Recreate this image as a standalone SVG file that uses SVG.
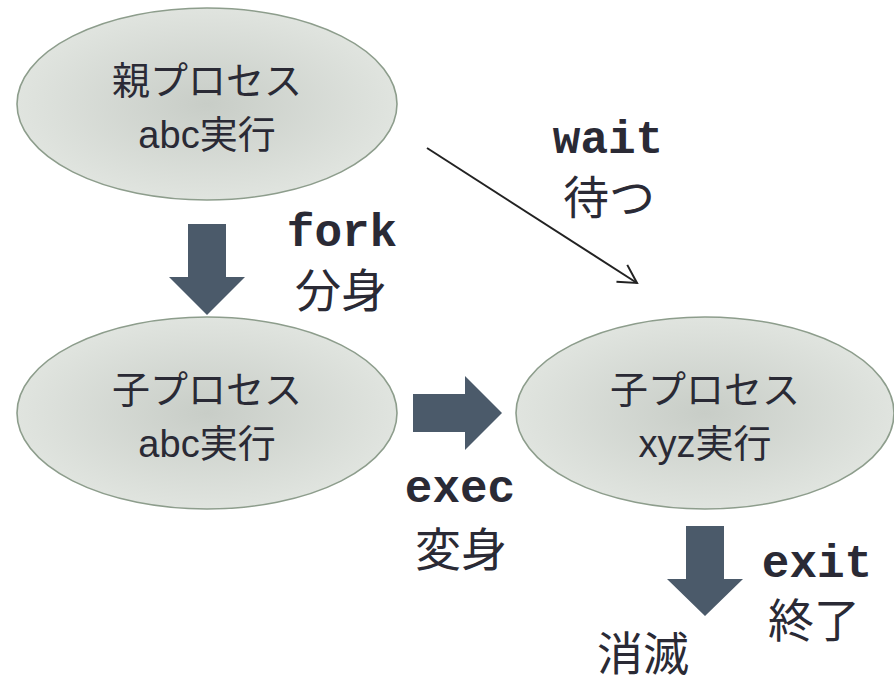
<svg xmlns="http://www.w3.org/2000/svg" width="894" height="680" viewBox="0 0 894 680">
<style>
.node{fill:url(#g);stroke:#8d9d8c;stroke-width:1.6}
.nt{font-family:"Liberation Sans","Noto Sans CJK JP",sans-serif;font-size:38px;fill:#2a2a35;text-anchor:middle}
.code{font-family:"Liberation Mono","Courier New",monospace;font-weight:bold;font-size:46px;fill:#2a2a35;text-anchor:middle}
.jp{font-family:"Noto Sans CJK JP",sans-serif;font-size:46px;fill:#2a2a35;text-anchor:middle}
.fat{fill:#4b5a6a}
.thin{stroke:#222;stroke-width:2;fill:none}
</style>
<defs>
<radialGradient id="g" cx="0.5" cy="0.5" r="0.5">
<stop offset="0" stop-color="#c8cdc7"/>
<stop offset="1" stop-color="#e0e4df"/>
</radialGradient>
<marker id="open" markerUnits="userSpaceOnUse" markerWidth="24" markerHeight="24" viewBox="0 0 24 24" refX="20" refY="12" orient="auto" overflow="visible">
<path d="M2,2 L20,12 L2,22" fill="none" stroke="#222" stroke-width="2"/>
</marker>
</defs>
<rect width="894" height="680" fill="#fff"/>
<g id="parent">
<ellipse class="node" cx="207" cy="104" rx="190" ry="96"/>
<text class="nt" x="207" y="94">親プロセス</text>
<text class="nt" x="207" y="148">abc実行</text>
</g>
<g id="child-abc">
<ellipse class="node" cx="207" cy="413" rx="190" ry="96"/>
<text class="nt" x="207" y="403">子プロセス</text>
<text class="nt" x="207" y="457">abc実行</text>
</g>
<g id="child-xyz">
<ellipse class="node" cx="705" cy="413" rx="189" ry="96"/>
<text class="nt" x="705" y="403">子プロセス</text>
<text class="nt" x="705" y="457">xyz実行</text>
</g>
<g id="connectors">
<polygon id="fork-arrow" class="fat" points="188,224 226,224 226,277 245,277 207,315 169,277 188,277"/>
<polygon id="exec-arrow" class="fat" points="413,394 465,394 465,376 502,413 465,450 465,432 413,432"/>
<polygon id="exit-arrow" class="fat" points="686,526 724,526 724,579 743,579 705,616 667,579 686,579"/>
<line id="wait-line" class="thin" x1="427" y1="148" x2="637" y2="283" marker-end="url(#open)"/>
</g>
<g id="labels">
<text class="code" x="608" y="153">wait</text>
<text class="jp" x="609" y="214">待つ</text>
<text class="code" x="342" y="246">fork</text>
<text class="jp" x="341" y="307">分身</text>
<text class="code" x="460" y="502">exec</text>
<text class="jp" x="461" y="566">変身</text>
<text class="code" x="817" y="577">exit</text>
<text class="jp" x="814" y="637">終了</text>
<text class="jp" x="643" y="670">消滅</text>
</g>
</svg>
